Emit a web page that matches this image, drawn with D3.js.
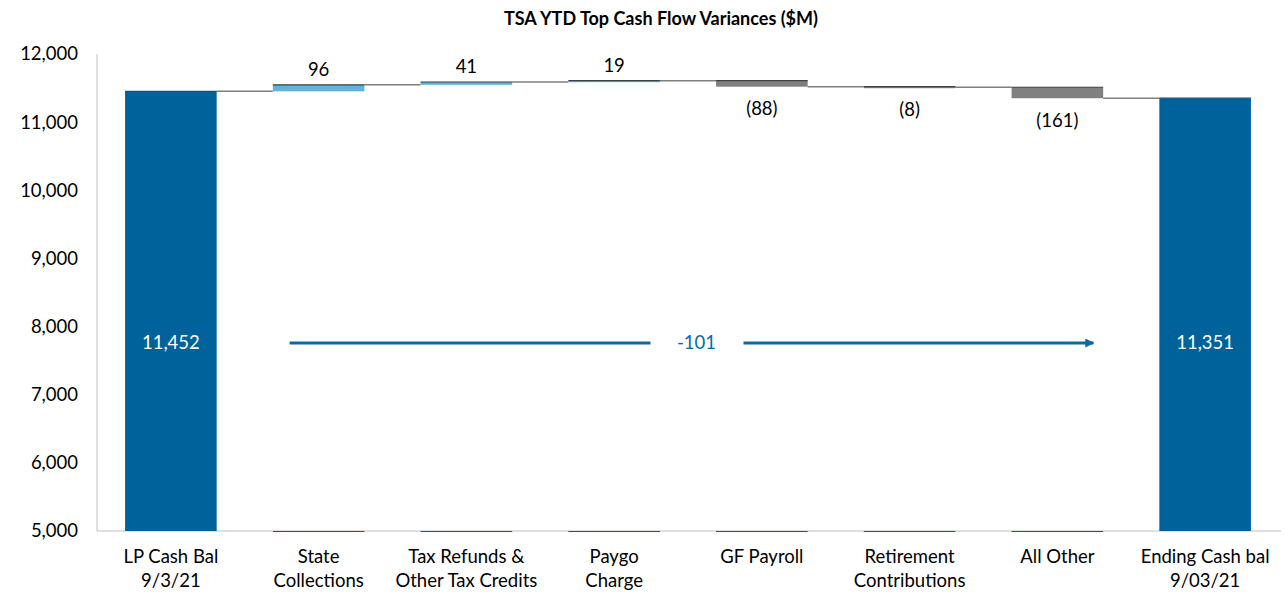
<!DOCTYPE html>
<html>
<head>
<meta charset="utf-8">
<script src="https://cdn.jsdelivr.net/npm/d3@7"></script>
<style>
body{margin:0;background:#fff;}
text{font-family:Lato,"Open Sans",sans-serif;}
</style>
</head>
<body>
<svg id="chart" width="1288" height="592"></svg>
<script>
var categories = [["LP Cash Bal","9/3/21"],["State","Collections"],["Tax Refunds &","Other Tax Credits"],["Paygo","Charge"],["GF Payroll"],["Retirement","Contributions"],["All Other"],["Ending Cash bal","9/03/21"]];
var kinds = ["total","delta","delta","delta","delta","delta","delta","total"];
var values = [11452,96,41,19,-88,-8,-161,11351];
var yTicks = [5000,6000,7000,8000,9000,10000,11000,12000];
var netChange = -101;

var width = 1288, height = 592;
var svg = d3.select("#chart");

var x = d3.scalePoint().domain(d3.range(categories.length)).range([97,1279]).padding(0.5);
var step = x.step(), bw = step*0.62;
var y = d3.scaleLinear().domain([5000,12000]).range([531,54]);

// running totals
var bars = [], run = 0;
for(var i=0;i<values.length;i++){
    var lo, hi;
    if(kinds[i]=="total"){ lo = 5000; hi = values[i]; run = values[i]; }
    else { var prev = run; run += values[i]; lo = Math.min(prev,run); hi = Math.max(prev,run); }
    bars.push({i:i,lo:lo,hi:hi,end:run,v:values[i],kind:kinds[i]});
}

var color = function(d){
    if(d.kind=="total") return "#00629b";
    return d.v>=0 ? "#5bb5e0" : "#808080";
};

svg.append("text").attr("x",661).attr("y",25).attr("text-anchor","middle")
    .attr("font-size",18).attr("font-weight","bold").attr("fill","#000")
    .text("TSA YTD Top Cash Flow Variances ($M)");

// axes lines
svg.append("line").attr("x1",97).attr("x2",97).attr("y1",54).attr("y2",531).attr("stroke","#bfbfbf");
svg.append("line").attr("x1",97).attr("x2",1281).attr("y1",531).attr("y2",531).attr("stroke","#bfbfbf");

svg.selectAll(".ytick").data(yTicks).enter().append("text")
    .attr("x",78).attr("y",function(d){ return y(d); }).attr("dy","0.35em")
    .attr("text-anchor","end").attr("font-size",18.5).attr("fill","#000")
    .text(function(d){ return d3.format(",")(d); });

// connectors
for(var i=0;i<bars.length-1;i++){
    svg.append("line")
        .attr("x1",x(i)+bw/2).attr("x2",x(i+1)-bw/2)
        .attr("y1",y(bars[i].end)).attr("y2",y(bars[i].end))
        .attr("stroke","#7f7f7f").attr("stroke-width",1.5);
}

// base marks for floating bars
svg.selectAll(".base").data(bars.filter(function(d){ return d.kind=="delta"; })).enter().append("line")
    .attr("x1",function(d){ return x(d.i)-bw/2; }).attr("x2",function(d){ return x(d.i)+bw/2; })
    .attr("y1",531.5).attr("y2",531.5).attr("stroke","#2f4f6f").attr("stroke-width",1);

svg.selectAll(".bar").data(bars).enter().append("rect")
    .attr("x",function(d){ return x(d.i)-bw/2; })
    .attr("width",bw)
    .attr("y",function(d){ return y(d.hi); })
    .attr("height",function(d){ return Math.max(1.5,y(d.lo)-y(d.hi)); })
    .attr("fill",color);

// darker top edges
svg.selectAll(".edge").data(bars).enter().append("line")
    .attr("x1",function(d){ return x(d.i)-bw/2; }).attr("x2",function(d){ return x(d.i)+bw/2; })
    .attr("y1",function(d){ return y(d.hi); }).attr("y2",function(d){ return y(d.hi); })
    .attr("stroke",function(d){ return d.kind=="total" ? "#1f4e79" : "#404040"; }).attr("stroke-width",1.2);

// value labels
svg.selectAll(".val").data(bars).enter().append("text")
    .attr("x",function(d){ return x(d.i); })
    .attr("y",function(d){
        if(d.kind=="total") return 343;
        return d.v>=0 ? y(d.hi)-15 : y(d.lo)+22;
    })
    .attr("dy","0.35em").attr("text-anchor","middle").attr("font-size",18.5)
    .attr("fill",function(d){ return d.kind=="total" ? "#fff" : "#000"; })
    .text(function(d){
        if(d.kind=="total") return d3.format(",")(d.v);
        return d.v>=0 ? d.v : "(" + Math.abs(d.v) + ")";
    });

// category labels
categories.forEach(function(c,i){
    var t = svg.append("text").attr("x",x(i)).attr("y",557).attr("text-anchor","middle")
        .attr("font-size",18.5).attr("fill","#000");
    c.forEach(function(line,j){
        t.append("tspan").attr("x",x(i)).attr("dy",j==0?"0.35em":24).text(line);
    });
});

// net change arrow
var defs = svg.append("defs");
defs.append("marker").attr("id","arr").attr("viewBox","0 0 10 10").attr("refX",9).attr("refY",5)
    .attr("markerWidth",3).attr("markerHeight",3).attr("orient","auto")
    .append("path").attr("d","M0,0L10,5L0,10Z").attr("fill","#0e68a3");
var ax1 = x(1)-29, ax2 = x(6)+36, ay = 343, mid = (ax1+ax2)/2 + 5;
svg.append("line").attr("x1",ax1).attr("x2",mid-46).attr("y1",ay).attr("y2",ay)
    .attr("stroke","#0e68a3").attr("stroke-width",3);
svg.append("line").attr("x1",mid+47).attr("x2",ax2).attr("y1",ay).attr("y2",ay)
    .attr("stroke","#0e68a3").attr("stroke-width",3).attr("marker-end","url(#arr)");
svg.append("text").attr("x",mid).attr("y",ay).attr("dy","0.35em").attr("text-anchor","middle")
    .attr("font-size",18.5).attr("fill","#0e68a3").text(netChange);
</script>
</body>
</html>
